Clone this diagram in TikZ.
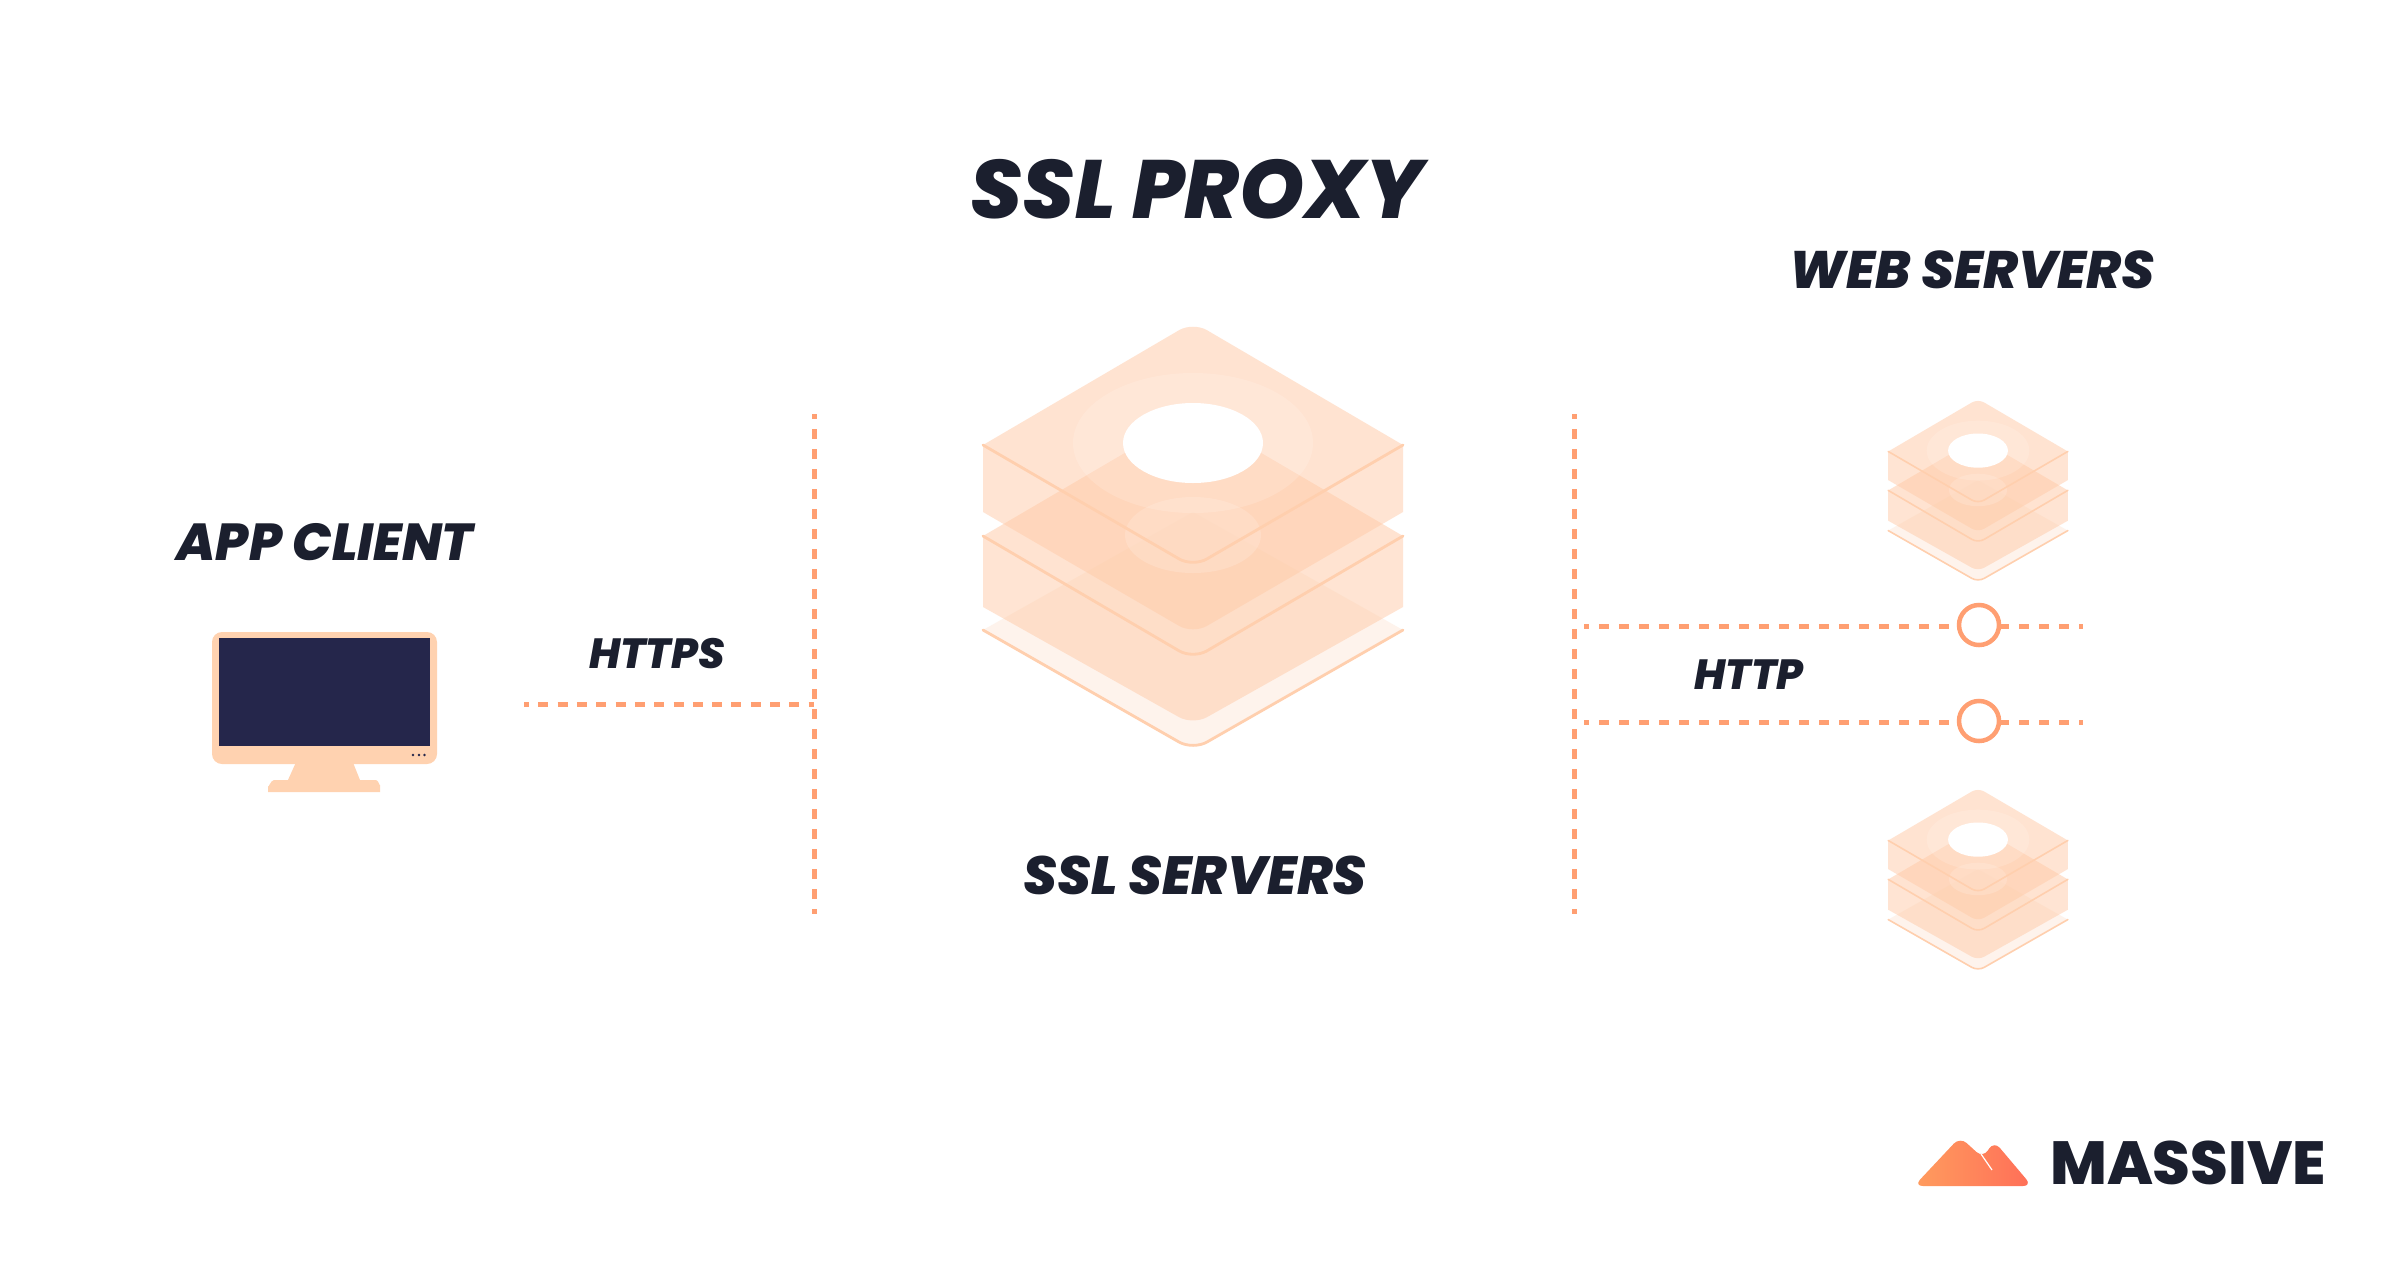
\documentclass[tikz,border=0pt]{standalone}
\usepackage{fontspec}
\newfontfamily\hvy{Poppins ExtraBold Italic}
\newfontfamily\logofont{Poppins ExtraBold}
\definecolor{ink}{HTML}{1B1F2E}
\definecolor{dotc}{HTML}{FF9F72}
\definecolor{plate}{HTML}{FFCBA8}
\definecolor{edgec}{HTML}{FFCFAE}
\definecolor{frame}{HTML}{FFD2B0}
\definecolor{screen}{HTML}{25264B}
\definecolor{low}{HTML}{FEF3EC}
\definecolor{logol}{HTML}{FF9C5E}
\definecolor{logor}{HTML}{FF6F58}
\tikzset{
  lbl/.style={inner sep=0pt,text=ink},
  dotline/.style={draw=dotc,line width=0.05cm,dash pattern=on 0.1cm off 0.1cm,dash phase=0.05cm},
  dotlinetight/.style={draw=dotc,line width=0.05cm,dash pattern=on 0.1cm off 0.093cm,dash phase=0.05cm},
  hub/.style={circle,draw=dotc,fill=white,line width=0.045cm,minimum size=0.4cm,inner sep=0pt},
  sidef/.style={fill=plate,fill opacity=0.5,draw=none},
  topf/.style={fill=plate,fill opacity=0.52,draw=none},
  edgeline/.style={draw=edgec,line cap=round}
}
\newcommand{\stackicon}[5]{%
\begin{scope}[shift={(#1,#2)},scale=#3]
  \def\lw{#4}\def\rc{#5}
  % bottom plate
  \fill[low] (-210,303) [rounded corners=\rc] -- (0,423) [sharp corners] -- (210,303) -- (0,185) -- cycle;
  \draw[edgeline,line width=\lw] (-210,303) [rounded corners=\rc] -- (0,423) [sharp corners] -- (210,303);
  % middle layer
  \fill[sidef] (-210,209) [rounded corners=\rc] -- (0,332) [sharp corners] -- (210,209) -- (210,280) [rounded corners=\rc] -- (0,398) [sharp corners] -- (-210,280) -- cycle;
  \fill[topf] (-210,209) [rounded corners=\rc] -- (0,86) [sharp corners] -- (210,209) [rounded corners=\rc] -- (0,332) [sharp corners] -- cycle;
  \fill[white,opacity=0.45] (0,208) circle[x radius=68,y radius=38];
  \draw[edgeline,line width=\lw] (-210,209) [rounded corners=\rc] -- (0,332) [sharp corners] -- (210,209);
  % top layer
  \fill[sidef] (-210,118) [rounded corners=\rc] -- (0,240) [sharp corners] -- (210,118) -- (210,185) [rounded corners=\rc] -- (0,307) [sharp corners] -- (-210,185) -- cycle;
  \fill[topf] (-210,118) [rounded corners=\rc] -- (0,-5) [sharp corners] -- (210,118) [rounded corners=\rc] -- (0,240) [sharp corners] -- cycle;
  \fill[white,opacity=0.15] (0,116) circle[x radius=120,y radius=70];
  \fill[white] (0,116) circle[x radius=70,y radius=40];
  \draw[edgeline,line width=\lw] (-210,118) [rounded corners=\rc] -- (0,240) [sharp corners] -- (210,118);
\end{scope}}
\begin{document}
\begin{tikzpicture}[x=0.01cm,y=-0.01cm]
\useasboundingbox (0,0) rectangle (2400,1260);
\fill[white] (0,0) rectangle (2400,1260);

% titles
\node[lbl,font=\hvy\fontsize{23.5}{28}\selectfont] (title) at (1197,189) {SSL PROXY};
\node[lbl,font=\hvy\fontsize{15}{18}\selectfont] (web) at (1972,270) {WEB SERVERS};
\node[lbl,font=\hvy\fontsize{14.8}{18}\selectfont] (app) at (325,542) {APP CLIENT};
\node[lbl,font=\hvy\fontsize{15.3}{18}\selectfont] (ssl) at (1195,875) {SSL SERVERS};
\node[lbl,font=\hvy\fontsize{12}{15}\selectfont] (https) at (657,654) {HTTPS};
\node[lbl,font=\hvy\fontsize{12}{15}\selectfont] (http) at (1749,675) {HTTP};

% server stacks
\stackicon{1193}{327}{1}{0.028cm}{0.16cm}
\stackicon{1978}{401}{0.4276}{0.016cm}{0.07cm}
\stackicon{1978}{790}{0.4276}{0.016cm}{0.07cm}

% monitor
\fill[frame] (297,760) -- (352,760) -- (360,780) -- (376,780) to[out=0,in=-90] (380,785) -- (380,792) -- (268,792) -- (268,786) to[out=-90,in=180] (274,780) -- (288,780) -- cycle;
\fill[frame,rounded corners=0.1cm] (212,632) rectangle (437,764);
\fill[screen] (219,638) rectangle (430,746);
\fill[screen] (413,755) circle[radius=1.4] (419,755) circle[radius=1.4] (424.5,755) circle[radius=1.4];

% connectors
\coordinate (v1t) at (814,414);
\coordinate (v1b) at (814,914);
\coordinate (v2t) at (1574,414);
\coordinate (v2b) at (1574,914);
\coordinate (hs) at (524,704);
\coordinate (he) at (814,704);
\coordinate (a1) at (1584,626);
\coordinate (b1) at (2083,626);
\coordinate (a2) at (1584,722);
\coordinate (b2) at (2083,722);
\draw[dotline] (v1t) -- (v1b);
\draw[dotline] (v2t) -- (v2b);
\draw[dotlinetight] (hs) -- (he);
\draw[dotline] (a1) -- (b1);
\draw[dotline] (a2) -- (b2);
\node[hub] (h1) at (1979,625) {};
\node[hub] (h2) at (1979,721) {};

% logo
\begin{scope}
\clip[rounded corners=0.09cm] (1914,1186) -- (1960,1137) -- (1983,1158) -- (1994,1141) -- (2032,1186) -- cycle;
\shade[left color=logol,right color=logor] (1915,1135) rectangle (2030,1190);
\end{scope}
\draw[white,line width=0.012cm] (1981,1154) -- (1992,1170);
\node[lbl,font=\logofont\fontsize{17.3}{22}\selectfont] (logo) at (2188,1163) {MASSIVE};
\end{tikzpicture}
\end{document}
